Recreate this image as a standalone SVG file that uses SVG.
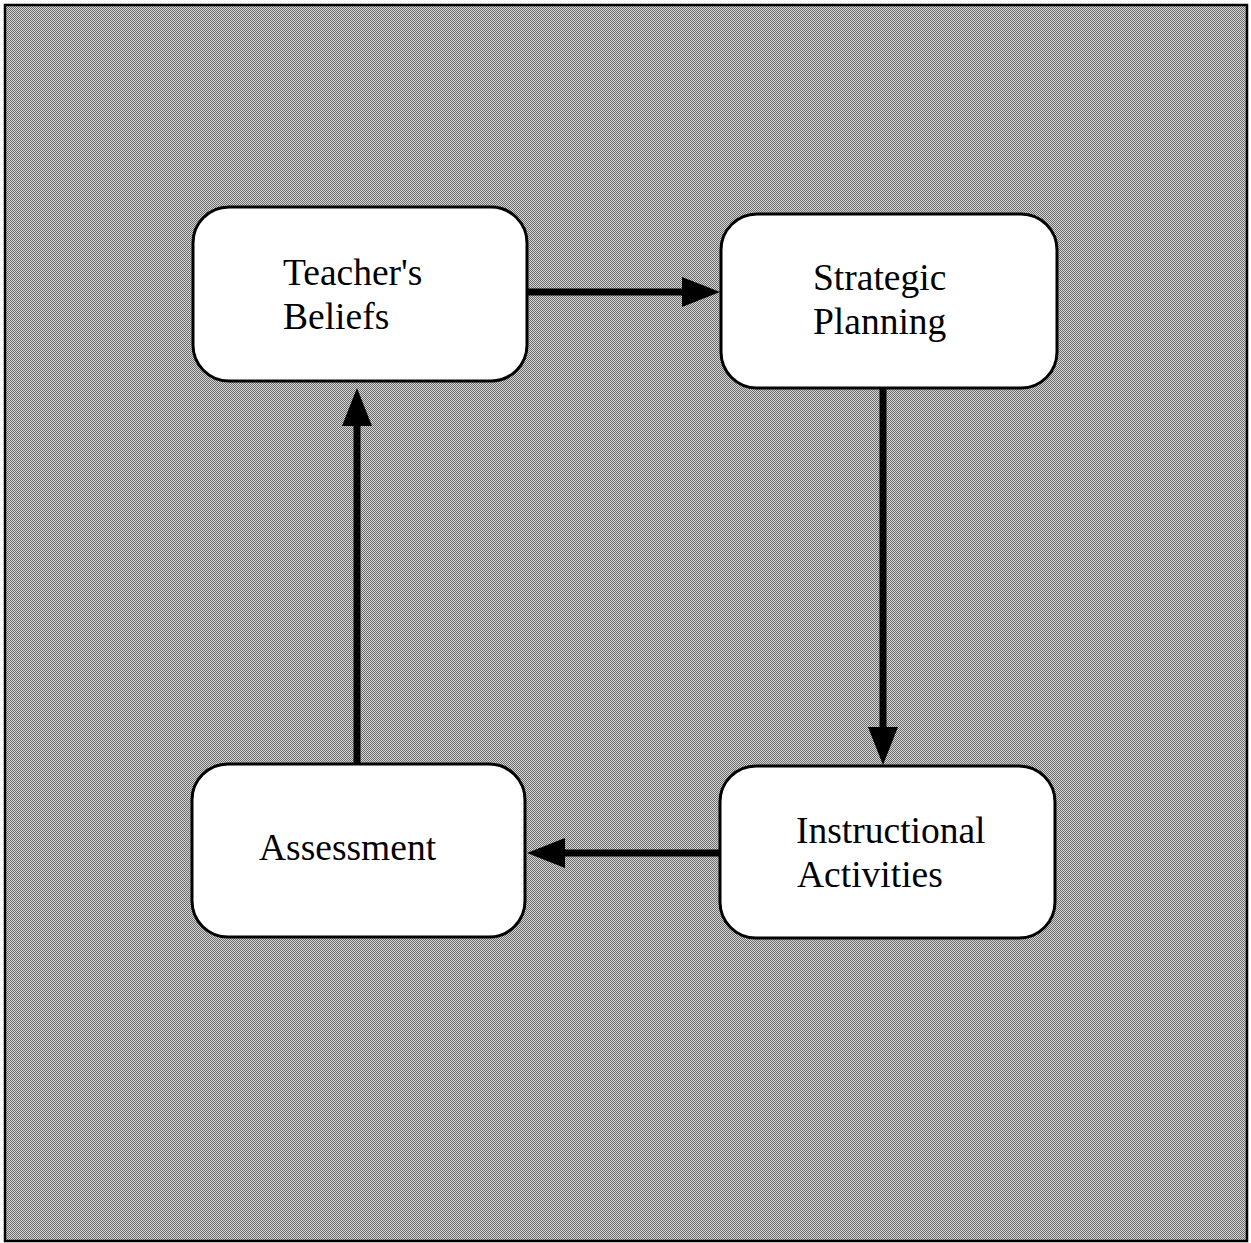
<svg xmlns="http://www.w3.org/2000/svg" width="1251" height="1243" viewBox="0 0 1251 1243">
  <defs>
    <!-- halftone-style grey ground -->
    <pattern id="dither" width="2" height="2" patternUnits="userSpaceOnUse">
      <rect width="2" height="2" fill="#d8d8d8"/>
      <rect width="1" height="1" fill="#6a6a6a"/>
      <rect x="1" y="1" width="1" height="1" fill="#6a6a6a"/>
    </pattern>
    <marker id="head" markerUnits="userSpaceOnUse" markerWidth="38" markerHeight="32" refX="0" refY="16" orient="auto" overflow="visible">
      <path d="M0,1 L38,16 L0,31 Z" fill="#000"/>
    </marker>
    <style>
      .box { fill: #fff; stroke: #000; stroke-width: 3; }
      .lbl { font-family: "Liberation Serif", "Times New Roman", serif; font-size: 37.5px; fill: #000; }
      .link { stroke: #000; stroke-width: 7; fill: none; marker-end: url(#head); }
    </style>
  </defs>

  <rect x="0" y="0" width="1251" height="1243" fill="#fff"/>
  <rect x="5" y="5" width="1242" height="1236" fill="url(#dither)" stroke="#000" stroke-width="2.5"/>

  <g id="connectors">
    <line class="link" x1="527" y1="292" x2="682" y2="292"/>
    <line class="link" x1="883" y1="389" x2="883" y2="727"/>
    <line class="link" x1="720" y1="853" x2="565" y2="853"/>
    <line class="link" x1="357" y1="764" x2="357" y2="426"/>
  </g>

  <g id="teachers-beliefs">
    <rect class="box" x="193" y="207" width="334" height="174" rx="36"/>
    <text class="lbl" x="283" y="285">Teacher's</text>
    <text class="lbl" x="283" y="329">Beliefs</text>
  </g>

  <g id="strategic-planning">
    <rect class="box" x="721" y="214" width="336" height="174" rx="36"/>
    <text class="lbl" x="813" y="290">Strategic</text>
    <text class="lbl" x="813" y="334">Planning</text>
  </g>

  <g id="assessment">
    <rect class="box" x="192" y="764" width="333" height="173" rx="36"/>
    <text class="lbl" x="259" y="860">Assessment</text>
  </g>

  <g id="instructional-activities">
    <rect class="box" x="720" y="766" width="335" height="172" rx="36"/>
    <text class="lbl" x="796" y="843">Instructional</text>
    <text class="lbl" x="797" y="887">Activities</text>
  </g>
</svg>
